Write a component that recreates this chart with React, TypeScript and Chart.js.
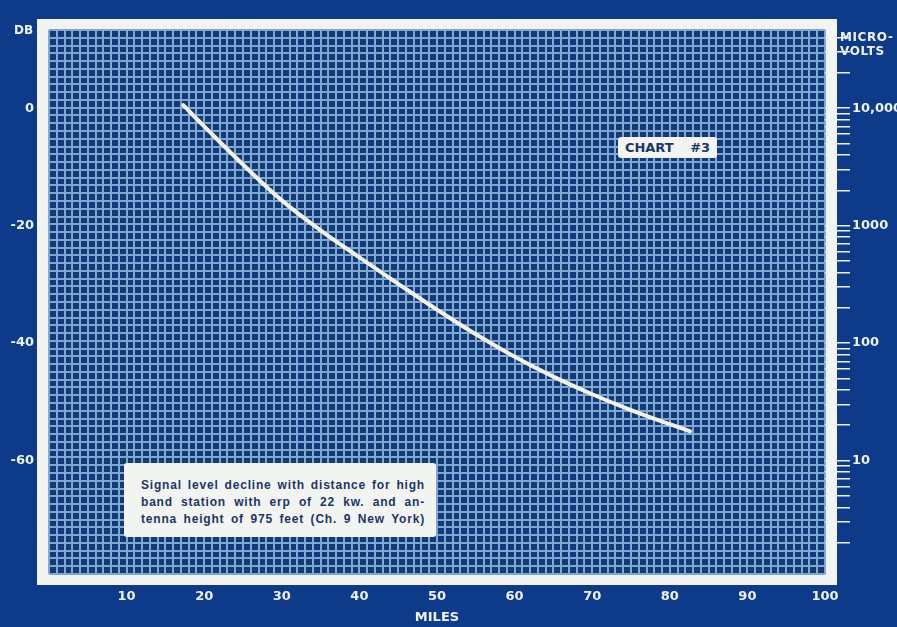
import React, { useEffect, useRef } from 'react';
import { Chart, registerables } from 'chart.js';

Chart.register(...registerables);

// ---- data ----
const MILES = [17.3, 20, 25, 30, 35, 40, 45, 50, 55, 60, 65, 70, 75, 80, 82.6];
const SIGNAL_DB = [0.5, -3.1, -9.6, -15.7, -20.8, -25.4, -29.9, -34.3, -38.5, -42.3, -45.7, -48.7, -51.4, -53.8, -55.0];

const MILE_LABELS = [10, 20, 30, 40, 50, 60, 70, 80, 90, 100];
const DB_TICKS = [-60, -40, -20, 0];
const UV_MAJOR = [10, 100, 1000, 10000];
const UV_MAJOR_LABELS = ['10', '100', '1000', '10,000'];
const UV_DECADES = [1, 10, 100, 1000, 10000];
const UV_STEPS = [1, 2, 3, 4, 5, 6, 7, 8, 9];

const NOTE_LINES = [
  'Signal level decline with distance for high',
  'band station with erp of 22 kw. and an-',
  'tenna height of 975 feet (Ch. 9 New York)',
];
const CHART_TAG = 'CHART #3';
const LEFT_TITLE = 'DB';
const RIGHT_TITLE = ['MICRO-', 'VOLTS'];
const X_TITLE = 'MILES';

// ---- axis ranges ----
const X_MIN = 0;
const X_MAX = 100;
const DB_MIN = -79.3;
const DB_MAX = 13.3;
const GRID_ROWS = 70;

// ---- styles ----
const OUTER = '#0e3a8a';
const FRAME = '#f2f4f1';
const PAPER = '#123a78';
const GRID = '#7ea8cf';
const TEXT = '#eef3f9';
const NAVY = '#1b3668';
const CURVE = '#f4f2e6';
const FONT = 'DejaVu Sans';

const dbToUv = (db: number) => 10000 * Math.pow(10, db / 20);

const framePlugin = {
  id: 'frame',
  beforeDraw(chart: any) {
    const { ctx, chartArea: a, width, height } = chart;
    ctx.save();
    ctx.fillStyle = OUTER;
    ctx.fillRect(0, 0, width, height);
    ctx.fillStyle = FRAME;
    ctx.fillRect(a.left - 12, a.top - 11, a.right - a.left + 24, a.bottom - a.top + 22);
    ctx.fillStyle = PAPER;
    ctx.fillRect(a.left, a.top, a.right - a.left, a.bottom - a.top);
    ctx.restore();
  },
};

export default function App() {
  const ref = useRef<HTMLCanvasElement | null>(null);

  useEffect(() => {
    if (!ref.current) return;
    const uvMin = dbToUv(DB_MIN);
    const uvMax = dbToUv(DB_MAX);
    const uvTicks: number[] = [];
    UV_DECADES.forEach((d) => UV_STEPS.forEach((s) => {
      const v = d * s;
      if (v >= uvMin && v <= uvMax) uvTicks.push(v);
    }));

    const chart = new Chart(ref.current, {
      type: 'line',
      data: {
        datasets: [
          {
            data: MILES.map((x, i) => ({ x, y: SIGNAL_DB[i] })),
            xAxisID: 'x',
            yAxisID: 'y',
            borderColor: CURVE,
            borderWidth: 4,
            pointRadius: 0,
            tension: 0.4,
            borderCapStyle: 'round',
            fill: false,
          } as any,
        ],
      },
      options: {
        responsive: false,
        animation: false,
        devicePixelRatio: 1,
        layout: { padding: { top: 30, left: 0, right: 0, bottom: 0 } },
        plugins: { legend: { display: false }, tooltip: { enabled: false } },
        scales: {
          x: {
            type: 'linear',
            position: 'bottom',
            min: X_MIN,
            max: X_MAX,
            ticks: {
              stepSize: 1,
              autoSkip: false,
              maxRotation: 0,
              color: TEXT,
              padding: 15,
              font: { family: FONT, size: 13, weight: 'bold' },
              callback: (v: any) => (MILE_LABELS.includes(Number(v)) ? String(v) : ''),
            },
            grid: { color: GRID, lineWidth: 2, drawTicks: false },
            border: { display: false },
            title: {
              display: true,
              text: X_TITLE,
              color: TEXT,
              font: { family: FONT, size: 13, weight: 'bold' },
              padding: { top: 0, bottom: 2 },
            },
            afterFit: (s: any) => { s.height = 53; },
          },
          y: {
            type: 'linear',
            position: 'left',
            min: DB_MIN,
            max: DB_MAX,
            afterBuildTicks: (s: any) => { s.ticks = DB_TICKS.map((v) => ({ value: v })); },
            ticks: {
              color: TEXT,
              padding: 15,
              font: { family: FONT, size: 13, weight: 'bold' },
              callback: (v: any) => String(v),
            },
            grid: { display: false, drawTicks: false },
            border: { display: false },
            afterFit: (s: any) => { s.width = 49; },
          },
          gy: {
            type: 'linear',
            position: 'left',
            min: 0,
            max: GRID_ROWS,
            ticks: { display: false, stepSize: 1, autoSkip: false },
            grid: { color: GRID, lineWidth: 2, drawTicks: false },
            border: { display: false },
            afterFit: (s: any) => { s.width = 0; },
          },
          uv: {
            type: 'logarithmic',
            position: 'right',
            min: uvMin,
            max: uvMax,
            afterBuildTicks: (s: any) => { s.ticks = uvTicks.map((v) => ({ value: v })); },
            ticks: {
              autoSkip: false,
              color: TEXT,
              padding: 2,
              font: { family: FONT, size: 13, weight: 'bold' },
              callback: (v: any) => {
                const i = UV_MAJOR.indexOf(Number(v));
                return i >= 0 ? UV_MAJOR_LABELS[i] : '';
              },
            },
            grid: { drawOnChartArea: false, drawTicks: true, tickLength: 25, color: TEXT, lineWidth: 1.5 },
            border: { display: false },
            afterFit: (s: any) => { s.width = 72; },
          },
        } as any,
      },
      plugins: [framePlugin],
    });
    return () => chart.destroy();
  }, []);

  const labelFont = `bold 12px "${FONT}"`;

  return (
    <div style={{ position: 'fixed', left: 0, top: 0, width: 897, height: 627, background: OUTER, overflow: 'hidden' }}>
      <canvas ref={ref} width={897} height={627} style={{ position: 'absolute', left: 0, top: 0 }} />
      <div style={{ position: 'absolute', left: 14, top: 23, font: labelFont, lineHeight: '14px', color: TEXT }}>
        {LEFT_TITLE}
      </div>
      <div style={{ position: 'absolute', left: 840, top: 30, font: labelFont, lineHeight: '14px', color: TEXT, whiteSpace: 'nowrap', letterSpacing: '0.6px' }}>
        {RIGHT_TITLE.map((t) => (<div key={t}>{t}</div>))}
      </div>
      <div
        style={{
          position: 'absolute', left: 618, top: 137, width: 99, height: 21, background: FRAME, borderRadius: 3,
          display: 'flex', alignItems: 'center', justifyContent: 'center',
          font: `bold 13px "${FONT}"`, color: NAVY, wordSpacing: '12px', whiteSpace: 'nowrap',
        }}
      >
        {CHART_TAG}
      </div>
      <div
        style={{
          position: 'absolute', left: 124, top: 463, width: 312, height: 74, background: FRAME, borderRadius: 3,
          boxSizing: 'border-box', padding: '14px 11px 0 17px',
          font: 'bold 12px "Liberation Sans"', color: NAVY, letterSpacing: '0.8px',
        }}
      >
        {NOTE_LINES.map((t) => (
          <div key={t} style={{ lineHeight: '17px', textAlign: 'justify', textAlignLast: 'justify', whiteSpace: 'normal' }}>{t}</div>
        ))}
      </div>
    </div>
  );
}
